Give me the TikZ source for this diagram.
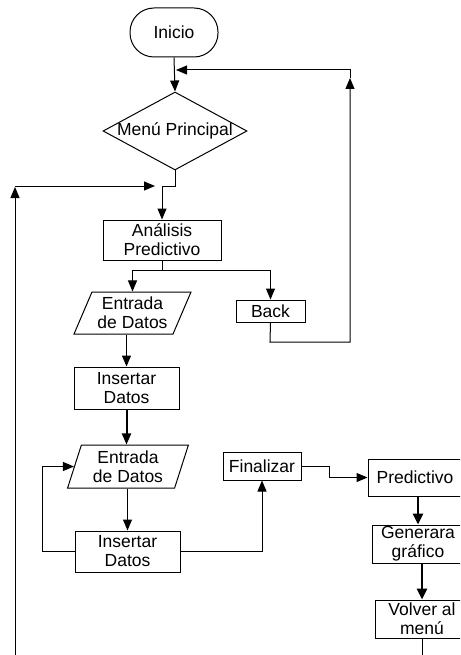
\documentclass[tikz,border=0pt]{standalone}
\usepackage{fontspec}
\setmainfont{Liberation Sans}
\usetikzlibrary{shapes.geometric,arrows.meta}
\begin{document}
\begin{tikzpicture}[x=1pt,y=-1pt,
  every node/.style={font=\fontsize{17.5}{19}\selectfont, align=center, inner sep=0pt},
  box/.style={draw, rectangle, line width=1pt},
  io/.style={draw, trapezium, trapezium stretches=true, line width=1pt},
  conn/.style={line width=1pt},
  arr/.style={conn, -{Triangle[length=11pt,width=9pt]}},
  heavy/.style={line width=2.6pt, -{Triangle[length=11pt,width=10pt]}}]
\useasboundingbox (0,0) rectangle (460,655);
\clip (0,0) rectangle (460,655);

% nodes
\node[box, rounded corners=24pt, minimum width=88pt, minimum height=49pt] (start) at (174,32.5) {Inicio};
\node[draw, diamond, line width=1pt, minimum width=144pt, minimum height=78pt,
      label=center:{Menú Principal}] (menu) at (175,131) {};
\node[box, minimum width=118pt, minimum height=40pt] (anal) at (162,240) {Análisis\\Predictivo};
\node[io, trapezium left angle=64, trapezium right angle=116,
      minimum width=117pt, minimum height=42pt] (ent1) at (132.5,313) {Entrada\\de Datos};
\node[box, minimum width=69pt, minimum height=22pt] (back) at (270.5,311) {Back};
\node[box, minimum width=105pt, minimum height=42pt] (ins1) at (126.5,388) {Insertar\\Datos};
\node[io, trapezium left angle=72, trapezium right angle=108,
      minimum width=121pt, minimum height=43pt] (ent2) at (128,466.5) {Entrada\\de Datos};
\node[box, minimum width=105pt, minimum height=41pt] (ins2) at (127.5,551.5) {Insertar\\Datos};
\node[box, minimum width=78pt, minimum height=28pt] (fin) at (262,466) {Finalizar};
\node[box, minimum width=94pt, minimum height=37pt] (pred) at (415,477.5) {Predictivo};
\node[box, minimum width=92pt, minimum height=38pt] (gen) at (418,544) {Generara\\gráfico};
\node[box, minimum width=94pt, minimum height=38pt] (vol) at (422,619) {Volver al\\menú};

% helper points
\coordinate (join) at (176,70);
\coordinate (split) at (162,270);
\coordinate (leftfoot) at (15,655);
\coordinate (volfoot) at (422,655);

% main flow
\draw[arr] (start.south) -- (menu.north);
\draw[arr] (menu.south) -- (175,186) -- (162,186) -- (anal.north);
\draw[conn] (anal.south) -- (split);
\draw[arr] (split) -| (ent1.north);
\draw[arr] (split) -| (back.north);
\draw[arr] (ins1.north |- ent1.south) -- (ins1.north);
\draw[arr, line width=2pt] (ins1.south) -- (ins1.south |- ent2.north);
\draw[arr] (ins2.north |- ent2.south) -- (ins2.north);

% loop back from "Back" to the main menu
\draw[arr] (back.south) -- (270,342) -- (350,342) -- (350,78);
\draw[arr] (350,78) -- (350,70) -- (join);

% loop from the bottom-left up to the menu exit
\draw[arr] (leftfoot) -- (15,187);
\draw[arr] (15,186) -- (155,186);

% data entry loop
\draw[arr] (ins2.west) -- (42,551.5) |- (ent2.west);
\draw[arr] (ins2.east) -| (fin.south);
\draw[arr] (fin.east) -- (329,466) -- (329,477.5) -- (pred.west);

% prediction branch
\draw[heavy] (pred.south -| gen.north) -- (gen.north);
\draw[heavy] (gen.south -| vol.north) -- (vol.north);
\draw[conn] (vol.south) -- (volfoot);
\end{tikzpicture}
\end{document}
